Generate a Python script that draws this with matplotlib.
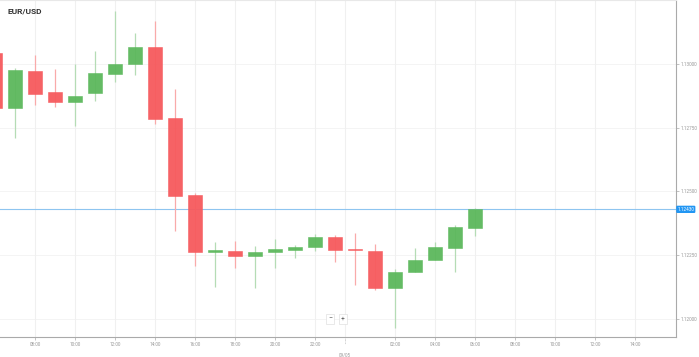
import matplotlib.pyplot as plt
import matplotlib.transforms as mtransforms

plt.rcParams['font.family'] = ['Roboto', 'DejaVu Sans']

# EUR/USD hourly candles, 04/09 06:00 -> 05/09 06:00 (hour index from 04/09 00:00)
hours = list(range(6, 31))
opens = [1.13042, 1.12827, 1.12973, 1.12888, 1.12849, 1.12885, 1.12959, 1.12998,
         1.13065, 1.12787, 1.12485, 1.12263, 1.12268, 1.12248, 1.12262, 1.12270,
         1.12283, 1.12323, 1.12274, 1.12267, 1.12122, 1.12184, 1.12231, 1.12278, 1.12358]
highs = [1.13060, 1.12984, 1.13034, 1.12980, 1.12998, 1.13050, 1.13207, 1.13119,
         1.13168, 1.12900, 1.12495, 1.12301, 1.12307, 1.12287, 1.12314, 1.12291,
         1.12335, 1.12329, 1.12336, 1.12295, 1.12195, 1.12279, 1.12301, 1.12370, 1.12435]
lows = [1.12810, 1.12710, 1.12839, 1.12832, 1.12758, 1.12854, 1.12930, 1.12956,
        1.12763, 1.12347, 1.12210, 1.12127, 1.12199, 1.12123, 1.12202, 1.12241,
        1.12267, 1.12223, 1.12134, 1.12113, 1.11967, 1.12184, 1.12231, 1.12186, 1.12326]
closes = [1.12827, 1.12976, 1.12881, 1.12849, 1.12875, 1.12963, 1.12999, 1.13065,
          1.12783, 1.12482, 1.12262, 1.12270, 1.12248, 1.12264, 1.12274, 1.12284,
          1.12322, 1.12271, 1.12270, 1.12120, 1.12185, 1.12231, 1.12282, 1.12360, 1.12430]

tick_hours = [8, 10, 12, 14, 16, 18, 20, 22, 26, 28, 30, 32, 34, 36, 38]
tick_labels = ['08:00', '10:00', '12:00', '14:00', '16:00', '18:00', '20:00', '22:00',
               '02:00', '04:00', '06:00', '08:00', '10:00', '12:00', '14:00']
price_ticks = [1.12000, 1.12250, 1.12500, 1.12750, 1.13000]
last_price = 1.12430
date_label = '09/05'

green = '#5cb85c'
red = '#f65a5d'

fig = plt.figure(figsize=(6.99, 3.57), dpi=100)
ax = fig.add_axes([0, 20 / 357, 676 / 699, 337 / 357])

# grid
for p in price_ticks:
    ax.axhline(p, color='#f2f2f2', lw=0.6, zorder=0)
for h in tick_hours:
    ax.axvline(h, color='#f0f0f0', lw=0.8, zorder=0)
ax.axvline(23.5, color='#f0f0f0', lw=0.8, zorder=0)

# candles
for h, o, hi, lo, c in zip(hours, opens, highs, lows, closes):
    col = green if c >= o else red
    wick = '#b5dcb5' if c >= o else '#f9aaaa'
    ax.vlines(h, lo, hi, color=wick, lw=0.9, zorder=2)
    body = max(abs(c - o), 0.00005)
    ax.bar(h, body, bottom=min(o, c), width=0.68, color=col,
           edgecolor=col, lw=0.4, alpha=0.95, zorder=3)

# last price line
ax.axhline(last_price, color='#8ec5f0', lw=0.8, zorder=1)

ax.set_xlim(6.25, 40.05)
ax.set_ylim(1.11930, 1.13250)

ax.set_xticks(tick_hours, tick_labels)
ax.set_yticks(price_ticks, ['%.5f' % p for p in price_ticks])
ax.yaxis.tick_right()
ax.tick_params(axis='both', labelsize=3.3, colors='#aaaaaa', labelcolor='#999999',
               length=2, width=0.5, pad=1.5)

ax.spines['left'].set_visible(False)
ax.spines['top'].set_color('#e8e8e8')
ax.spines['right'].set_color('#aaaaaa')
ax.spines['bottom'].set_color('#aaaaaa')
for side in ['top', 'right', 'bottom']:
    ax.spines[side].set_linewidth(0.8)

# date marker under the axis
trans = mtransforms.blended_transform_factory(ax.transData, ax.transAxes)
ax.plot([23.5, 23.5], [0, -0.02], transform=trans, color='#aaaaaa', lw=0.5,
        ls=(0, (1, 1)), clip_on=False)
ax.text(23.5, -0.045, date_label, transform=trans, fontsize=3.3, color='#999999',
        ha='center', va='top')

# last price tag
ax.text(1.002, last_price, '%.5f' % last_price, transform=ax.get_yaxis_transform(),
        fontsize=3.3, color='white', va='center', ha='left',
        bbox=dict(boxstyle='round,pad=0.25', fc='#2196f3', ec='none'))

# title
fig.text(8 / 699, 1 - 11 / 357, 'EUR/USD', fontsize=6, fontweight='bold',
         color='#333333', va='center')

# zoom buttons
for px, s in [(330, '\u2212'), (343, '+')]:
    fig.text(px / 699, 1 - 319 / 357, s, fontsize=5, color='#666666', ha='center',
             va='center',
             bbox=dict(boxstyle='square,pad=0.25', fc='white', ec='#e0e0e0', lw=0.5))

fig.savefig('out.png', dpi=100)
